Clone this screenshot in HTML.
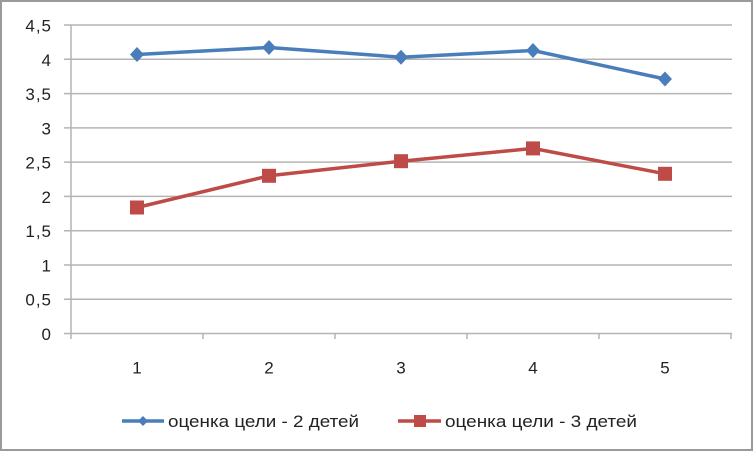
<!DOCTYPE html>
<html><head><meta charset="utf-8"><style>
html,body{margin:0;padding:0;background:#fff;}
svg{display:block;}
text{font-family:"Liberation Sans",sans-serif;fill:#222;}
</style></head><body>
<svg width="754" height="452" viewBox="0 0 754 452" xmlns="http://www.w3.org/2000/svg">
<rect x="1" y="1" width="751" height="449" fill="#fff" stroke="#9a9a9a" stroke-width="2"/>
<g stroke="#b4b4b4" stroke-width="1.5">
<line x1="64" y1="25" x2="732" y2="25"/>
<line x1="64" y1="59.3" x2="732" y2="59.3"/>
<line x1="64" y1="93.6" x2="732" y2="93.6"/>
<line x1="64" y1="127.9" x2="732" y2="127.9"/>
<line x1="64" y1="162.1" x2="732" y2="162.1"/>
<line x1="64" y1="196.4" x2="732" y2="196.4"/>
<line x1="64" y1="230.7" x2="732" y2="230.7"/>
<line x1="64" y1="265" x2="732" y2="265"/>
<line x1="64" y1="299.2" x2="732" y2="299.2"/>
<line x1="64" y1="333.5" x2="732" y2="333.5"/>
<line x1="71" y1="25" x2="71" y2="339"/>
<line x1="203" y1="333.5" x2="203" y2="339"/>
<line x1="335" y1="333.5" x2="335" y2="339"/>
<line x1="467" y1="333.5" x2="467" y2="339"/>
<line x1="599" y1="333.5" x2="599" y2="339"/>
<line x1="731" y1="333.5" x2="731" y2="339"/>
</g>
<g font-size="17" text-anchor="end" letter-spacing="1">
<text x="52" y="31.5">4,5</text>
<text x="52" y="65.8">4</text>
<text x="52" y="100">3,5</text>
<text x="52" y="134.3">3</text>
<text x="52" y="168.6">2,5</text>
<text x="52" y="202.9">2</text>
<text x="52" y="237.2">1,5</text>
<text x="52" y="271.5">1</text>
<text x="52" y="305.7">0,5</text>
<text x="52" y="340">0</text>
</g>
<g font-size="17" text-anchor="middle">
<text x="137" y="373.5">1</text>
<text x="269" y="373.5">2</text>
<text x="401" y="373.5">3</text>
<text x="533" y="373.5">4</text>
<text x="665" y="373.5">5</text>
</g>
<polyline points="137,54.5 269,47.5 401,57.2 533,50.5 665,79" fill="none" stroke="#4a7ebb" stroke-width="3.5" stroke-linejoin="round"/>
<g fill="#4a7ebb">
<polygon points="137,47 144,54.5 137,62 130,54.5"/>
<polygon points="269,40 276,47.5 269,55 262,47.5"/>
<polygon points="401,49.7 408,57.2 401,64.7 394,57.2"/>
<polygon points="533,43 540,50.5 533,58 526,50.5"/>
<polygon points="665,71.5 672,79 665,86.5 658,79"/>
</g>
<polyline points="137,207.5 269,175.8 401,161.2 533,148.4 665,173.8" fill="none" stroke="#be4b48" stroke-width="3.5" stroke-linejoin="round"/>
<g fill="#be4b48">
<rect x="130" y="200.5" width="14" height="14"/>
<rect x="262" y="168.8" width="14" height="14"/>
<rect x="394" y="154.2" width="14" height="14"/>
<rect x="526" y="141.4" width="14" height="14"/>
<rect x="658" y="166.8" width="14" height="14"/>
</g>
<line x1="122" y1="421" x2="164" y2="421" stroke="#4a7ebb" stroke-width="3.5"/>
<polygon points="143,416 148,421 143,426 138,421" fill="#4a7ebb"/>
<text x="168" y="427" font-size="17" textLength="191" lengthAdjust="spacingAndGlyphs">оценка цели - 2 детей</text>
<line x1="398" y1="421" x2="441" y2="421" stroke="#be4b48" stroke-width="3.5"/>
<rect x="414" y="415" width="12" height="12" fill="#be4b48"/>
<text x="445" y="427" font-size="17" textLength="192" lengthAdjust="spacingAndGlyphs">оценка цели - 3 детей</text>
</svg>
</body></html>
